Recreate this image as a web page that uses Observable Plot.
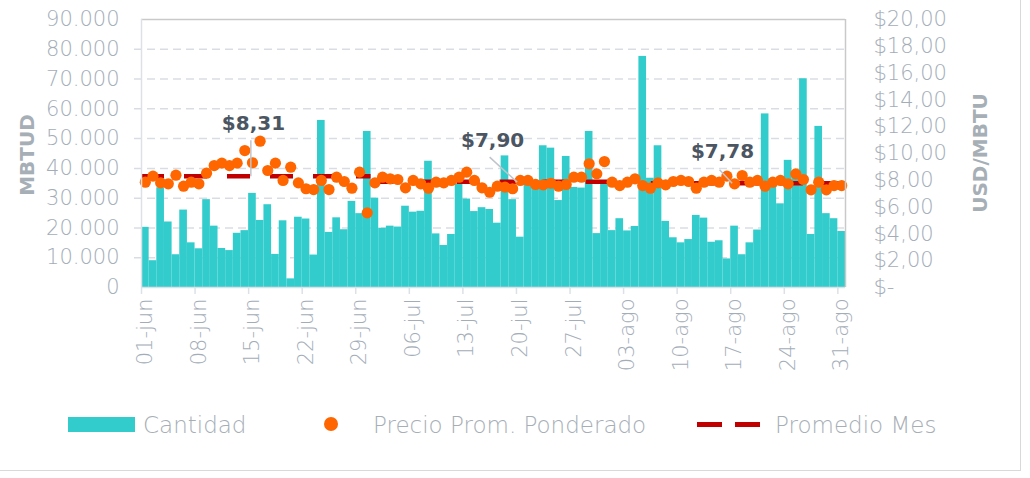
<!DOCTYPE html>
<html>
<head>
<meta charset="utf-8">
<script src="https://cdn.jsdelivr.net/npm/d3@7"></script>
<script src="https://cdn.jsdelivr.net/npm/@observablehq/plot@0.6"></script>
<style>
  html, body { margin: 0; padding: 0; background: #fff; }
  #wrap { position: relative; width: 1030px; height: 478px; overflow: hidden; font-family: "DejaVu Sans", sans-serif; }
  #box { position: absolute; left: -2px; top: -2px; width: 1023px; height: 473px; border: 1px solid #d9d9d9; box-sizing: border-box; }
  #chart { position: absolute; left: 0; top: 0; }
  .ytitle { position: absolute; font-weight: bold; font-size: 20px; color: #a6aeb6; white-space: nowrap; transform: translate(-50%, -50%) rotate(-90deg); }
  .leg { position: absolute; font-size: 23px; color: #a6aeb6; white-space: nowrap; line-height: 1; transform: translateY(-50%); font-weight: 300; }
  .sw { position: absolute; }
</style>
</head>
<body>
<div id="wrap">
  <div id="box"></div>
  <div id="chart"></div>
  <div class="ytitle" style="left:27px; top:155px;">MBTUD</div>
  <div class="ytitle" style="left:980px; top:153px;">USD/MBTU</div>
  <div class="sw" style="left:68px; top:417px; width:67px; height:15px; background:#33cccc;"></div>
  <div class="leg" style="left:143px; top:425px;">Cantidad</div>
  <div class="sw" style="left:324px; top:417px; width:14px; height:14px; border-radius:50%; background:#ff6600;"></div>
  <div class="leg" style="left:373px; top:425px;">Precio Prom. Ponderado</div>
  <div class="sw" style="left:697px; top:422px; width:25px; height:5px; background:#c00000;"></div>
  <div class="sw" style="left:735px; top:422px; width:25px; height:5px; background:#c00000;"></div>
  <div class="leg" style="left:775px; top:425px;">Promedio Mes</div>
</div>
<script>
// ---------- DATA ----------
const xTickLabels = ["01-jun","08-jun","15-jun","22-jun","29-jun","06-jul","13-jul","20-jul","27-jul","03-ago","10-ago","17-ago","24-ago","31-ago"];

// Cantidad (MBTUD), one value per day 01-jun .. 31-ago
const cantidad = [
  // junio
  20200, 9000, 33500, 22000, 11000, 26000, 15000, 13000, 29500, 20600,
  13100, 12400, 18200, 19100, 31600, 22500, 27800, 11100, 22400, 2900,
  23600, 23000, 10900, 56100, 18500, 23400, 19400, 28900, 24800, 52400,
  // julio
  30000, 19900, 20600, 20300, 27300, 25300, 25600, 42400, 18000, 14100,
  17800, 34600, 29700, 25500, 26800, 26200, 21600, 44200, 29500, 16900,
  35500, 35000, 47600, 46800, 29200, 44000, 33600, 33400, 52400, 18100,
  35500,
  // agosto
  19100, 23100, 19000, 20500, 77600, 36700, 47600, 22200, 16700, 15000,
  16100, 24200, 23300, 15200, 15700, 9600, 20600, 11000, 15000, 19300,
  58300, 36000, 28100, 42700, 38000, 70100, 17800, 54100, 24800, 23100,
  18800
];

// Precio Prom. Ponderado (USD/MBTU)
const precio = [
  // junio
  7.86, 8.31, 7.81, 7.74, 8.38, 7.56, 7.86, 7.74, 8.53, 9.10,
  9.28, 9.10, 9.28, 10.22, 9.31, 10.92, 8.73, 9.28, 7.99, 8.98,
  7.81, 7.37, 7.31, 7.99, 7.31, 8.23, 7.91, 7.41, 8.61, 5.57,
  // julio
  7.81, 8.23, 8.11, 8.06, 7.44, 7.99, 7.74, 7.41, 7.86, 7.81,
  7.99, 8.23, 8.61, 7.99, 7.44, 7.11, 7.56, 7.49, 7.37, 7.99,
  7.99, 7.69, 7.66, 7.78, 7.56, 7.69, 8.23, 8.23, 9.23, 8.48,
  9.40,
  // agosto
  7.86, 7.61, 7.86, 8.11, 7.61, 7.41, 7.81, 7.66, 7.91, 7.99,
  7.91, 7.41, 7.86, 7.99, 7.86, 8.31, 7.74, 8.36, 7.86, 7.99,
  7.56, 7.86, 7.99, 7.74, 8.48, 8.06, 7.29, 7.86, 7.29, 7.61,
  7.61
];

// Promedio Mes
const monthNames = ["jun", "jul", "ago"];
const monthAvg = [8.31, 7.90, 7.78];
const monthFirstDay = [1, 31, 62];
const monthLastDay = [30, 61, 92];
const annotDay = [15, 49, 78];

const leftTicks = [0, 10000, 20000, 30000, 40000, 50000, 60000, 70000, 80000, 90000];
const rightTicks = [0, 2, 4, 6, 8, 10, 12, 14, 16, 18, 20];

// ---------- LAYOUT ----------
const W = 1030, H = 390, mL = 141, mR = 185, mT = 19, mB = 103;
const YMAX = 90000, PMAX = 20;
const SCALE = YMAX / PMAX; // price -> left-axis units
const nDays = cantidad.length;
const pxPerDay = (W - mL - mR) / nDays;
const pxPerUnit = (H - mT - mB) / YMAX;

const days = d3.range(1, nDays + 1);
const rows = days.map((d, i) => ({ day: d, q: cantidad[i], p: precio[i] * SCALE }));
const months = monthNames.map((m, i) => ({ m, avg: monthAvg[i], start: monthFirstDay[i], end: monthLastDay[i] }));
const tickDays = xTickLabels.map((_, i) => 1 + 7 * i);
const weekBounds = d3.range(0, nDays + 1, 7).map(v => v + 0.5);

const fmtThousands = v => String(v).replace(/\B(?=(\d{3})+(?!\d))/g, ".");
const fmtMoney = v => v === 0 ? "$-" : "$" + v.toFixed(2).replace(".", ",");

// annotation pixel offsets (style)
const annotStyle = [
  { tdx: 1, tdy: -53, l: [-1.6, -36, -1.6, 0] },
  { tdx: -20, tdy: -41, l: [-23, -24.5, 4.5, 0.5] },
  { tdx: -12, tdy: -32, l: [-15, -13.5, -2.4, 0] }
];
const annots = annotDay.map((d, i) => ({ day: d, avg: monthAvg[i], label: fmtMoney(monthAvg[i]), s: annotStyle[i] }));

const textColor = "#a3adb8";

const chart = Plot.plot({
  width: W, height: H,
  marginLeft: mL, marginRight: mR, marginTop: mT, marginBottom: mB,
  style: { fontFamily: "DejaVu Sans, sans-serif", background: "transparent", overflow: "visible", color: textColor },
  x: { type: "linear", domain: [0.5, nDays + 0.5], axis: null },
  y: { type: "linear", domain: [0, YMAX], axis: null },
  marks: [
    Plot.ruleY(leftTicks.slice(1, -1), { y: d => d, x1: 0.5 - 7 / pxPerDay, x2: nDays + 0.5, stroke: "#d9dde3", strokeWidth: 1.5, strokeDasharray: "8 5" }),
    Plot.rectY(rows, { x1: d => d.day - 0.5, x2: d => d.day + 0.5, y: "q", fill: "#33cccc", inset: 0 }),
    Plot.ruleY(months, { x1: d => d.start - 0.5, x2: d => d.end + 0.5, y: d => d.avg * SCALE, stroke: "#c00000", strokeWidth: 4.5, strokeDasharray: "23 20" }),
    Plot.dot(rows, { x: "day", y: "p", r: 5.6, fill: "#ff6600", stroke: "none" }),
    Plot.ruleY([YMAX], { y: d => d, stroke: "#c9c9c9", strokeWidth: 1.5 }),
    Plot.ruleX([nDays + 0.5], { x: d => d, stroke: "#c9c9c9", strokeWidth: 1.5 }),
    Plot.ruleX([0.5], { x: d => d, stroke: "#dde1e6", strokeWidth: 1.5 }),
    Plot.ruleY([0], { y: d => d, stroke: "#dde1e6", strokeWidth: 1.5 }),
    Plot.axisX(weekBounds, { anchor: "bottom", tickSize: 7, tickFormat: () => "", stroke: "#dde1e6", strokeWidth: 1.5, label: null }),
    Plot.axisY(leftTicks, { anchor: "left", tickSize: 0, tickPadding: 22, tickFormat: fmtThousands, fontSize: 21, fill: textColor, label: null, fontWeight: 300 }),
    Plot.axisY(rightTicks.map(v => v * SCALE), { anchor: "right", tickSize: 0, tickPadding: 28, tickFormat: v => fmtMoney(v / SCALE), fontSize: 21, fill: textColor, label: null, textAnchor: "start", fontWeight: 300 }),
    Plot.axisX(tickDays, { anchor: "bottom", tickSize: 0, tickPadding: 11, tickRotate: -90, tickFormat: d => xTickLabels[tickDays.indexOf(d)], fontSize: 21, fill: textColor, label: null, fontWeight: 300 }),
    // annotations: leader lines
    ...annots.map(a => Plot.link([a], {
      x1: d => d.day + d.s.l[0] / pxPerDay, y1: d => d.avg * SCALE - d.s.l[1] / pxPerUnit,
      x2: d => d.day + d.s.l[2] / pxPerDay, y2: d => d.avg * SCALE - d.s.l[3] / pxPerUnit,
      stroke: "#bfc4ca", strokeWidth: 1.5
    })),
    ...annots.map(a => Plot.text([a], {
      x: "day", y: d => d.avg * SCALE, text: "label",
      dx: a.s.tdx, dy: a.s.tdy, fontSize: 20, fontWeight: "bold", fill: "#4b5662"
    }))
  ]
});
document.getElementById("chart").appendChild(chart);
</script>
</body>
</html>
